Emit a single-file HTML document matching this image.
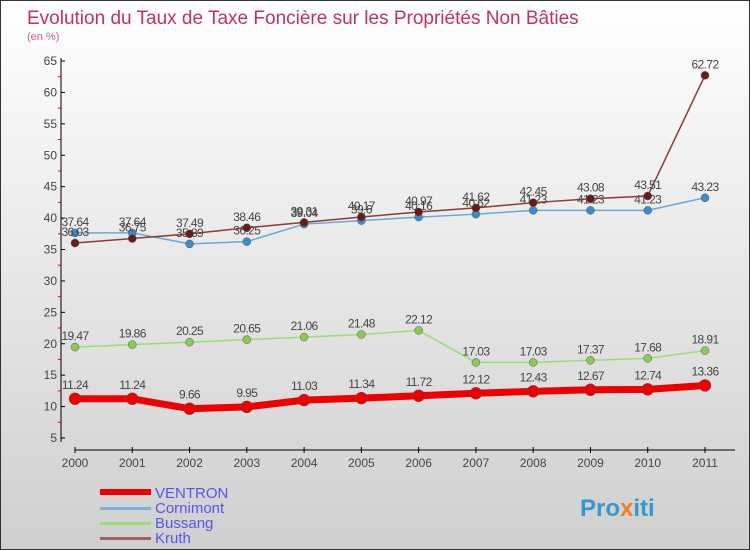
<!DOCTYPE html>
<html><head><meta charset="utf-8"><style>
body{margin:0;width:750px;height:550px;overflow:hidden;font-family:"Liberation Sans",sans-serif}
svg{display:block}
</style></head><body>
<svg width="750" height="550">
<defs><linearGradient id="bg" x1="0" y1="0" x2="0" y2="1"><stop offset="0" stop-color="#ffffff"/><stop offset="1" stop-color="#cfcfcf"/></linearGradient></defs>
<rect x="0.5" y="0.5" width="749" height="549" fill="url(#bg)" stroke="#333"/>
<text x="27" y="24" font-size="19" fill="#c0306a">Evolution du Taux de Taxe Foncière sur les Propriétés Non Bâties</text>
<text x="27" y="40" font-size="11" fill="#d06090">(en %)</text>
<g id="axes"></g>
<g id="series"></g>
<g>
<rect x="100" y="489" width="51" height="6" fill="#e00"/>
<text x="155" y="498" font-size="15" fill="#5555ee">VENTRON</text>
<rect x="100" y="507" width="51" height="3" fill="#7ab0d8"/>
<text x="155" y="513" font-size="15" fill="#5555ee">Cornimont</text>
<rect x="100" y="522" width="51" height="3" fill="#99dd77"/>
<text x="155" y="528" font-size="15" fill="#5555ee">Bussang</text>
<rect x="100" y="537" width="51" height="3" fill="#a06060"/>
<text x="155" y="543" font-size="15" fill="#5555ee">Kruth</text>
</g>
<text x="580" y="516" font-size="24" font-weight="bold" fill="#3399cc">Pro<tspan fill="#f08020">x</tspan>iti</text>
</svg>
<script>
const years=["2000","2001","2002","2003","2004","2005","2006","2007","2008","2009","2010","2011"];
const yTicks=[5,10,15,20,25,30,35,40,45,50,55,60,65];
const ventron=[11.24,11.24,9.66,9.95,11.03,11.34,11.72,12.12,12.43,12.67,12.74,13.36];
const cornimont=[37.64,37.64,35.89,36.25,39.04,39.6,40.16,40.62,41.23,41.23,41.23,43.23];
const bussang=[19.47,19.86,20.25,20.65,21.06,21.48,22.12,17.03,17.03,17.37,17.68,18.91];
const kruth=[36.03,36.75,37.49,38.46,39.31,40.17,40.97,41.62,42.45,43.08,43.51,62.72];
const NS="http://www.w3.org/2000/svg";
const xs=i=>75+i*(630/11);
const ys=v=>61+(65-v)*(377/60);
function mk(tag,attrs,parent){const e=document.createElementNS(NS,tag);for(const k in attrs)e.setAttribute(k,attrs[k]);parent.appendChild(e);return e;}
const ax=document.getElementById('axes');
let yl=mk('line',{x1:61,y1:58,x2:61,y2:442,stroke:'#000'},ax);


let xl=mk('line',{x1:75,y1:450,x2:735,y2:450,stroke:'#000'},ax);


yTicks.forEach((v,i)=>{
 const y=ys(v);
 mk('line',{x1:61,y1:y,x2:65,y2:y,stroke:'#000'},ax);
 if(i<yTicks.length-1) mk('line',{x1:58,y1:ys(v+2.5),x2:61,y2:ys(v+2.5),stroke:'#d00'},ax);
 const t=mk('text',{x:57,y:y+4,'font-size':12,fill:'#444','text-anchor':'end'},ax);
 t.textContent=v;
 
 
});
years.forEach((yr,i)=>{
 const x=xs(i);
 mk('line',{x1:x,y1:447,x2:x,y2:453,stroke:'#000'},ax);
 const t=mk('text',{x:x,y:467,'font-size':12,fill:'#444','text-anchor':'middle'},ax);
 t.textContent=yr;
 
 
});
const sg=document.getElementById('series');
function series(name,data,color,dot,lw,r,dy){
 const g=mk('g',{},sg);
 
 
 const p=mk('polyline',{points:data.map((v,i)=>xs(i)+','+ys(v)).join(' '),fill:'none',stroke:color,'stroke-width':lw,'stroke-linejoin':'round'},g);
 
 
 data.forEach((v,i)=>{
  const c=mk('circle',{cx:xs(i),cy:ys(v),r:r,fill:dot,stroke:'#555','stroke-width':0.5},g);
  
  
  const t=mk('text',{x:xs(i),y:ys(v)+dy,'font-size':12,fill:'#444','text-anchor':'middle','letter-spacing':'-0.6'},g);
  t.textContent=v;
  
  
 });
}
series('cornimont',cornimont,'#6aa8d8','#3a8ccc',1.5,4,-7);
series('kruth',kruth,'#8a3a3a','#6a1a1a',1.5,4,-7);
series('bussang',bussang,'#99dd77','#88cc55',1.5,4,-7);
series('ventron',ventron,'#ee0000','#ee0000',7,6,-10);
</script>
</body></html>
